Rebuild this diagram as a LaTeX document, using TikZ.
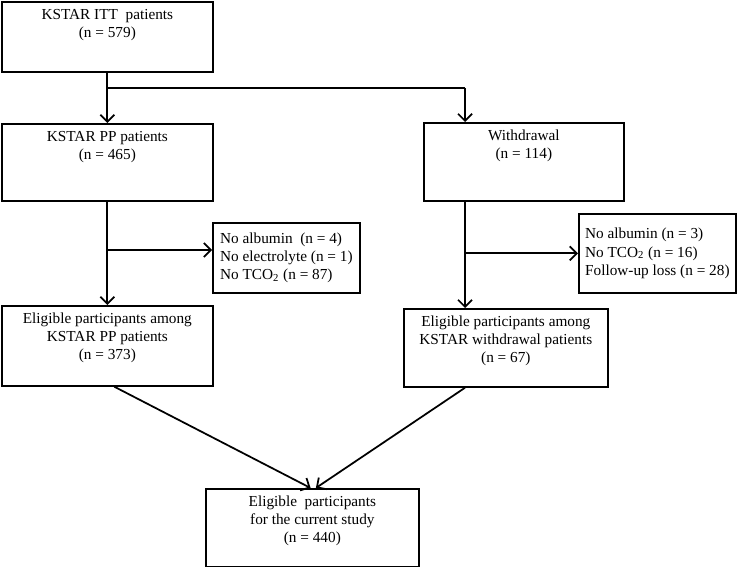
\documentclass[tikz,border=0pt]{standalone}
\usepackage{fontspec}
\setmainfont{Liberation Serif}
\usepackage{tikz}
\usetikzlibrary{positioning,arrows.meta,calc}

\begin{document}
\begin{tikzpicture}[
  x=0.02cm, y=-0.02cm,
  box/.style={draw, rectangle, line width=1pt, anchor=north west, inner sep=0pt},
  boxtxt/.style={anchor=north, inner sep=0pt, yshift=-4pt, align=center},
  excl/.style={draw, rectangle, line width=1pt, anchor=north west, align=left, inner sep=0pt},
  >={Straight Barb[length=1.4mm,width=2.8mm]}, line width=1pt,
  every node/.style={font=\fontsize{8.7}{10.3}\selectfont}
]
\useasboundingbox (0,0) rectangle (750,567);

% main boxes
\node[box, minimum width=4.22cm, minimum height=1.40cm,
  label={[boxtxt]north:{KSTAR ITT~ patients\\(n = 579)}}] (itt) at (1,1) {};
\node[box, minimum width=4.22cm, minimum height=1.54cm,
  label={[boxtxt]north:{KSTAR PP patients\\(n = 465)}}] (pp) at (1,123) {};
\node[box, minimum width=4.00cm, minimum height=1.56cm,
  label={[boxtxt]north:{Withdrawal\\(n = 114)}}] (wd) at (423,122) {};
\node[box, minimum width=4.22cm, minimum height=1.60cm,
  label={[boxtxt]north:{Eligible participants among\\KSTAR PP patients\\(n = 373)}}] (elp) at (1,305) {};
\node[box, minimum width=4.08cm, minimum height=1.56cm,
  label={[boxtxt]north:{Eligible participants among\\KSTAR withdrawal patients\\(n = 67)}}] (elw) at (403,308) {};
\node[box, minimum width=4.26cm, minimum height=1.56cm,
  label={[boxtxt]north:{Eligible~ participants\\for the current study\\(n = 440)}}] (fin) at (205,488) {};

% exclusions
\node[excl, minimum width=2.94cm, minimum height=1.40cm] (exl) at (212,222)
  {No albumin~ (n = 4)\\No electrolyte (n = 1)\\No TCO\textsubscript{2} (n = 87)};
\node[excl, minimum width=3.14cm, minimum height=1.58cm] (exr) at (578,213)
  {No albumin (n = 3)\\No TCO\textsubscript{2} (n = 16)\\Follow-up loss (n = 28)};

% split points
\coordinate (s1) at (106.5,88);
\coordinate (s2) at (465,88);
\coordinate (s3) at (106.5,250);
\coordinate (s4) at (465,200);

\draw[->] (itt) -- (pp);
\draw (s1) -- (s2);
\draw[->] (s2) -- (s2 |- wd.north);
\draw[->] (pp) -- (elp);
\draw[->] (s3) -- (s3 -| exl.west);
\draw[->] (s4 |- wd.south) -- (s4 |- elw.north);
\draw[->] (s4 |- exr.west) -- (exr.west);
\draw[->] ([xshift=4pt]elp.south) -- ([xshift=-1pt]fin.north);
\draw[->] (s4 |- elw.south) -- ([xshift=2pt]fin.north);
\end{tikzpicture}
\end{document}
